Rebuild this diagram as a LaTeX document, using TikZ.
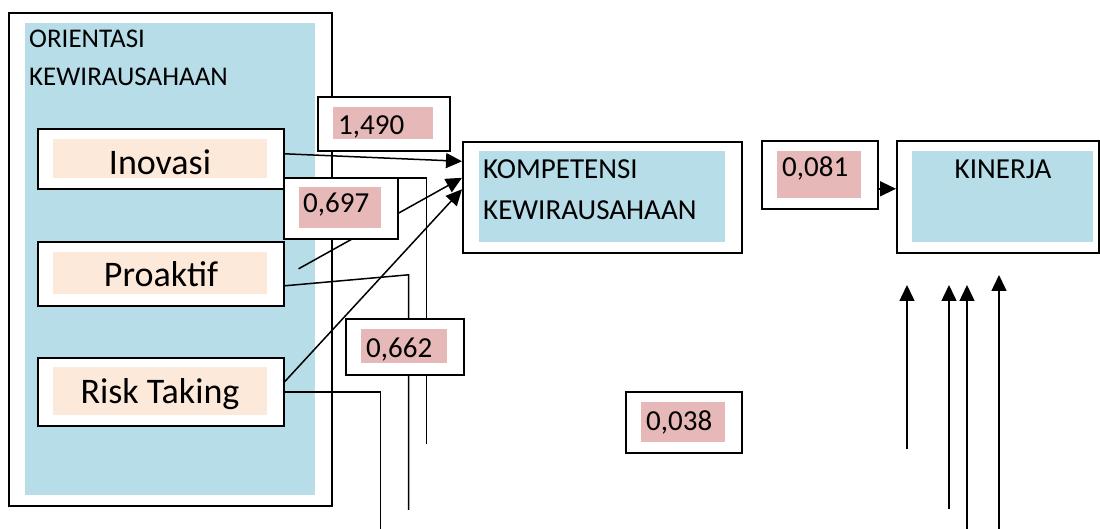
\documentclass[tikz,border=0pt]{standalone}
\usepackage{fontspec}
\setmainfont{Carlito}
\usetikzlibrary{arrows.meta}
\definecolor{lblue}{HTML}{B7DDE8}
\definecolor{lpink}{HTML}{E6B8B7}
\definecolor{lpeach}{HTML}{FDE9D9}
\tikzset{
  frame/.style={draw, line width=1.6pt, fill=white, inner sep=0pt, anchor=north west},
  txtsmall/.style={inner sep=0pt, font=\fontsize{27}{30}\selectfont},
  txtmid/.style={inner sep=0pt, font=\fontsize{29}{32}\selectfont},
  txtbig/.style={inner sep=0pt, font=\fontsize{36}{40}\selectfont},
  conn/.style={line width=1.5pt},
  arr/.style={line width=1.5pt, -{Triangle[length=16pt,width=15pt]}},
}
\begin{document}
\begin{tikzpicture}[x=1pt, y=-1pt]
\useasboundingbox (0,0) rectangle (1100,529);

% ORIENTASI KEWIRAUSAHAAN container
\node[frame, minimum width=323pt, minimum height=493pt] (ok) at (8,12) {};
\fill[lblue] (25,23) rectangle (315,495);
\node[txtsmall, anchor=base west] (okt1) at (29,48) {ORIENTASI};
\node[txtsmall, anchor=base west] (okt2) at (29,86) {KEWIRAUSAHAAN};

% Inovasi
\node[frame, minimum width=246pt, minimum height=60pt] (inov) at (37,128) {};
\fill[lpeach] (53,139) rectangle (267,178);
\node[txtbig, anchor=base] (inovt) at (160,175) {Inovasi};

% Proaktif
\node[frame, minimum width=246pt, minimum height=64pt] (pro) at (37,241) {};
\fill[lpeach] (53,252) rectangle (267,294);
\node[txtbig, anchor=base] (prot) at (161,287) {Proaktif};

% Risk Taking
\node[frame, minimum width=246pt, minimum height=68pt] (risk) at (37,357) {};
\fill[lpeach] (53,367) rectangle (267,415);
\node[txtbig, anchor=base] (riskt) at (160,403) {Risk Taking};

% KOMPETENSI KEWIRAUSAHAAN
\node[frame, minimum width=279pt, minimum height=111pt] (komp) at (462,141) {};
\fill[lblue] (479,151) rectangle (725,242);
\node[txtmid, anchor=base west] (kompt1) at (483,179) {KOMPETENSI};
\node[txtmid, anchor=base west] (kompt2) at (483,220) {KEWIRAUSAHAAN};

% KINERJA
\node[frame, minimum width=202pt, minimum height=112pt] (kin) at (896,140) {};
\fill[lblue] (912,151) rectangle (1093,242);
\node[txtmid, anchor=base] (kint) at (1003,179) {KINERJA};

% connectors
\draw[arr] ([yshift=5pt]inov.east) -- ([yshift=36pt]komp.west);
\draw[conn] ([yshift=-19pt]inov.east) -- ++(142,0) -- ++(0,266);
\draw[arr] ([xshift=14pt,yshift=5pt]pro.east) -- ([yshift=19.5pt]komp.west);
\draw[conn] ([yshift=-12pt]pro.east) -- ++(124,-11) -- ++(0,235);
\draw[arr] ([yshift=10pt]risk.east) -- ([yshift=8pt]komp.west);
\draw[conn] (risk.east) -- ++(96,0) -- ++(0,140);

% vertical arrows under KINERJA
\coordinate (b1) at (907,449);
\coordinate (t1) at (907,285);
\coordinate (b2) at (949,509);
\coordinate (t2) at (949,285);
\coordinate (b3) at (967,530);
\coordinate (t3) at (967,285);
\coordinate (b4) at (999,530);
\coordinate (t4) at (999,275);
\draw[arr] (b1) -- (t1);
\draw[arr] (b2) -- (t2);
\draw[arr] (b3) -- (t3);
\draw[arr] (b4) -- (t4);

% value labels
\node[frame, minimum width=132pt, minimum height=54pt] (v1490) at (317,96) {};
\fill[lpink] (333,107) rectangle (433,139);
\node[txtmid, anchor=base west] (v1490t) at (338,135) {1,490};

\node[frame, minimum width=114pt, minimum height=61pt] (v697) at (283,177) {};
\fill[lpink] (299,187) rectangle (381,228);
\node[txtmid, anchor=base west] (v697t) at (303,213) {0,697};

\node[frame, minimum width=118pt, minimum height=56pt] (v662) at (345,318) {};
\fill[lpink] (361,329) rectangle (447,363);
\node[txtmid, anchor=base west] (v662t) at (366,357) {0,662};

\node[frame, minimum width=116pt, minimum height=61pt] (v038) at (625,391) {};
\fill[lpink] (641,402) rectangle (725,442);
\node[txtmid, anchor=base west] (v038t) at (646,430) {0,038};

\node[frame, minimum width=116pt, minimum height=68pt] (v081) at (761,140) {};
\fill[lpink] (777,151) rectangle (861,198);
\node[txtmid, anchor=base west] (v081t) at (782,177) {0,081};

\draw[arr] ([yshift=-14pt]v081.east) -- ([yshift=8pt]kin.west);
\end{tikzpicture}
\end{document}
